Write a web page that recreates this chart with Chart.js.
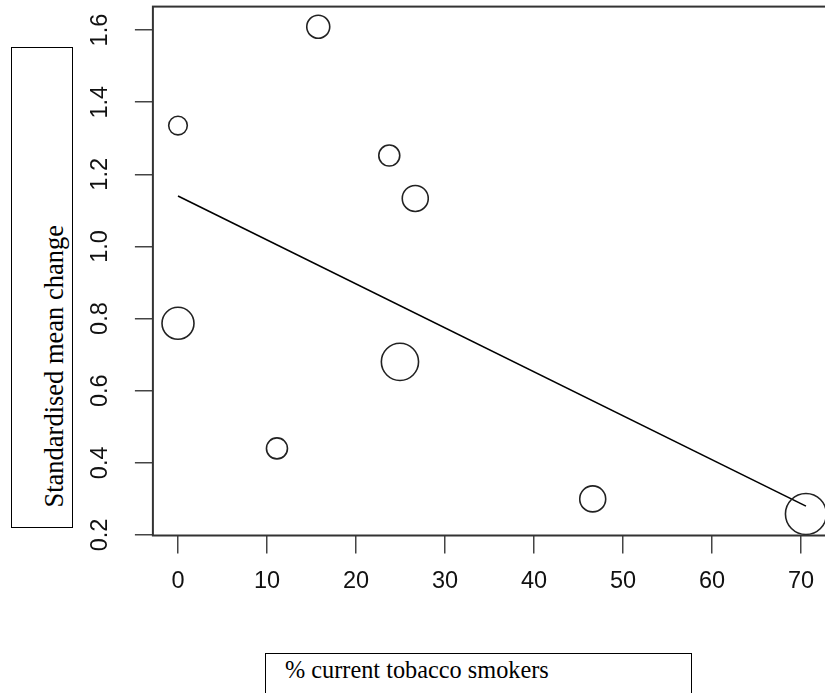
<!DOCTYPE html>
<html>
<head>
<meta charset="utf-8">
<script src="https://cdn.jsdelivr.net/npm/chart.js@4/dist/chart.umd.min.js"></script>
<style>
  html, body { margin: 0; padding: 0; background: #fff; overflow: hidden; }
  #wrap { position: absolute; left: 0; top: 0; width: 845px; height: 693px; }
  .axis-box {
    position: absolute; border: 1px solid #000; background: #fff;
    box-sizing: border-box; font-family: "Liberation Serif", "Times New Roman", serif;
    color: #000; white-space: nowrap;
  }
  #ytitle { left: 11px; top: 47px; width: 62px; height: 481px; font-size: 26.5px; }
  #ytitle span {
    position: absolute; bottom: 19px; left: 29px; line-height: 1;
    writing-mode: vertical-rl; transform: rotate(180deg);
  }
  #xtitle { left: 265px; top: 653px; width: 427px; height: 60px; font-size: 24.3px; }
  #xtitle span { position: absolute; left: 19px; top: 4px; line-height: 1; }
</style>
</head>
<body>
<div id="wrap"><canvas id="c" width="845" height="693"></canvas></div>
<div class="axis-box" id="ytitle"><span>Standardised mean change</span></div>
<div class="axis-box" id="xtitle"><span>% current tobacco smokers</span></div>
<script>
// Studies: % current tobacco smokers vs standardised mean change
const smokersPct   = [0, 15.76, 23.74, 26.66, 0, 24.94, 11.12, 46.6, 70.56];
const meanChange   = [1.335, 1.609, 1.252, 1.133, 0.787, 0.680, 0.440, 0.300, 0.258];
const studyWeight  = [9.3, 11.5, 10.5, 13, 16, 18.6, 10.5, 13, 20.5];

// Fitted meta-regression line endpoints
const fitX = [0, 70.56];
const fitY = [1.14, 0.28];

const xTicks = [0, 10, 20, 30, 40, 50, 60, 70];
const yTicks = [0.2, 0.4, 0.6, 0.8, 1.0, 1.2, 1.4, 1.6];

const bubbles = smokersPct.map((x, i) => ({ x, y: meanChange[i], r: studyWeight[i] }));
const fitPoints = fitX.map((x, i) => ({ x, y: fitY[i] }));

// Plot frame drawn around the chart area
const frame = {
  id: 'frame',
  afterDatasetsDraw(chart) {
    const { ctx, chartArea: a } = chart;
    ctx.save();
    ctx.strokeStyle = '#333';
    ctx.lineWidth = 2;
    ctx.strokeRect(a.left, a.top, a.right - a.left, a.bottom - a.top);
    ctx.restore();
  }
};

// Fixed axis sizes so the plot area sits at a set place
function fixBox(size, s) {
  if (s.isHorizontal()) s.height = size; else s.width = size;
  s.paddingTop = 0; s.paddingBottom = 0; s.paddingLeft = 0; s.paddingRight = 0;
}

const tickFont = { family: '"Liberation Sans", Arial, sans-serif', size: 23.5 };

new Chart(document.getElementById('c'), {
  type: 'bubble',
  data: {
    datasets: [
      {
        type: 'line',
        data: fitPoints,
        borderColor: '#000',
        borderWidth: 1.6,
        pointRadius: 0,
        fill: false,
        order: 1
      },
      {
        data: bubbles,
        backgroundColor: 'rgba(255,255,255,0)',
        borderColor: '#222',
        borderWidth: 1.6,
        order: 0
      }
    ]
  },
  options: {
    responsive: false,
    animation: false,
    events: [],
    layout: { autoPadding: false, padding: { top: 6.6, right: 13.6, left: 0, bottom: 0 } },
    plugins: { legend: { display: false }, tooltip: { enabled: false } },
    scales: {
      x: {
        type: 'linear',
        min: -2.82,
        max: 73.42,
        afterBuildTicks(s) { s.ticks = xTicks.map(v => ({ value: v })); },
        afterFit(s) { fixBox(157.5, s); },
        border: { display: false },
        grid: { drawOnChartArea: false, drawTicks: true, tickLength: 18, tickColor: '#444', lineWidth: 1.5 },
        ticks: { font: tickFont, color: '#111', padding: 14, maxRotation: 0, minRotation: 0 }
      },
      y: {
        type: 'linear',
        min: 0.1985,
        max: 1.665,
        afterBuildTicks(s) { s.ticks = yTicks.map(v => ({ value: v })); },
        afterFit(s) { fixBox(152.9, s); },
        border: { display: false },
        grid: { drawOnChartArea: false, drawTicks: true, tickLength: 18, tickColor: '#444', lineWidth: 1.5 },
        ticks: {
          font: tickFont, color: '#111', padding: 18,
          minRotation: 90, maxRotation: 90, crossAlign: 'center',
          callback: v => v.toFixed(1)
        }
      }
    }
  },
  plugins: [frame]
});
</script>
</body>
</html>
